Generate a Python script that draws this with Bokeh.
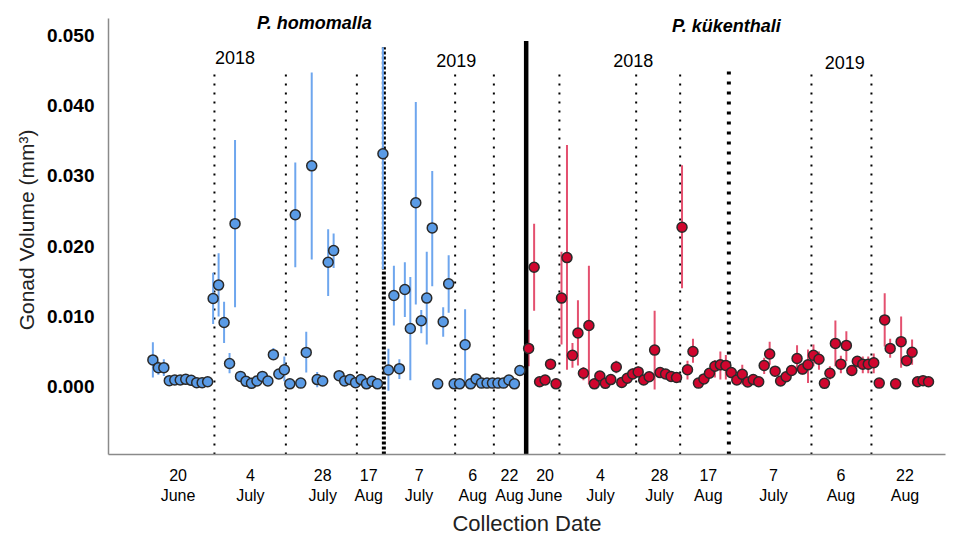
from bokeh.plotting import figure
from bokeh.models import FixedTicker, NumeralTickFormatter, Label, Range1d
from bokeh.embed import file_html
from bokeh.resources import INLINE

# ---- data ----
blue_val = [0.0038, 0.0027, 0.0027, 0.00085, 0.00095, 0.00095, 0.00104, 0.0009, 0.00057, 0.00057, 0.0007,
            0.01254, 0.01445, 0.00913, 0.0033, 0.0232, 0.00146, 0.00075, 0.00047, 0.0008, 0.00146, 0.0008, 0.00455, 0.0018, 0.0024, 0.0004,
            0.02447, 0.0005, 0.00487, 0.03143, 0.001, 0.0008, 0.01771, 0.01936, 0.00156, 0.0008, 0.001, 0.00057, 0.001, 0.0004, 0.00075, 0.0004,
            0.03314, 0.00237, 0.01297, 0.00256, 0.01382, 0.00828, 0.02618, 0.00938, 0.0126, 0.02259, 0.0004, 0.00923, 0.01463, 0.0004, 0.0004,
            0.00597, 0.0004, 0.0011, 0.0005, 0.0005, 0.0005, 0.0005, 0.0005, 0.00095, 0.0004, 0.0023]
blue_lo = [0.0013, 0.0017, 0.0015, 0.00085, 0.00095, 0.00095, 0.00104, 0.0009, 0.00057, 0.00057, 0.0007,
           0.0089, 0.0100, 0.0062, 0.0019, 0.0113, 0.00146, 0.00075, 0.00047, 0.0008, 0.0010, 0.0008, 0.0038, 0.0018, 0.00075, 0.0004,
           0.0170, 0.0005, 0.0020, 0.0181, -0.0001, 0.0008, 0.0129, 0.0169, 0.0010, 0.0008, 0.001, 0.00057, 0.001, 0.0004, 0.00075, 0.0004,
           0.0167, -0.0006, 0.0087, 0.0011, 0.0099, 0.0009, 0.0117, 0.0076, 0.0060, 0.0143, 0.0004, 0.0071, 0.0105, 0.0004, 0.0004,
           0.00075, 0.0004, 0.0011, 0.0005, 0.0005, 0.0005, 0.0005, 0.0005, 0.00095, 0.0004, 0.0023]
blue_hi = [0.0063, 0.0036, 0.0039, 0.00085, 0.00095, 0.00095, 0.00104, 0.0009, 0.00057, 0.00057, 0.0007,
           0.0162, 0.0190, 0.0121, 0.0048, 0.0351, 0.00146, 0.00075, 0.00047, 0.0008, 0.0021, 0.0008, 0.0055, 0.0018, 0.0043, 0.0004,
           0.0319, 0.0005, 0.0078, 0.0447, 0.0021, 0.0008, 0.0224, 0.0218, 0.0022, 0.0008, 0.001, 0.00057, 0.001, 0.0004, 0.00075, 0.0004,
           0.0483, 0.0054, 0.0172, 0.0039, 0.0177, 0.0156, 0.0405, 0.0109, 0.0192, 0.0307, 0.0004, 0.0113, 0.0187, 0.0004, 0.0004,
           0.0110, 0.0004, 0.0011, 0.0005, 0.0005, 0.0005, 0.0005, 0.0005, 0.00095, 0.0004, 0.0023]

red_val = [0.00544, 0.0170, 0.0007, 0.00095, 0.0032, 0.0004, 0.0126, 0.01837, 0.00445, 0.00763,
           0.0019, 0.0087, 0.0004, 0.0015, 0.00047, 0.001, 0.0028, 0.0006, 0.0012, 0.0018,
           0.0021, 0.00095, 0.0014, 0.0052, 0.002, 0.0018, 0.00146, 0.0013, 0.02268, 0.0024,
           0.005, 0.0005, 0.0011, 0.0019, 0.0029, 0.0031, 0.003, 0.002, 0.00095, 0.00175,
           0.00067, 0.001, 0.0007, 0.003, 0.00464, 0.0022, 0.0008, 0.0014, 0.0023, 0.0040,
           0.0025, 0.0031, 0.00445, 0.0039, 0.00047, 0.0019, 0.00615, 0.0032, 0.00587, 0.0023,
           0.0036, 0.0032, 0.0032, 0.0034, 0.0005, 0.0095, 0.00544, 0.0004, 0.0064, 0.0037,
           0.0049, 0.0007, 0.00085, 0.0007]
red_lo = [0.0029, 0.0108, 0.0007, 0.00095, 0.0032, 0.0004, 0.0060, 0.0024, 0.0027, 0.0030,
          0.0009, 0.0003, 0.0004, 0.0015, 0.00047, 0.001, 0.0019, 0.0006, 0.0012, 0.0012,
          0.0015, 0.00095, 0.0014, -0.0004, 0.002, 0.0018, 0.00146, 0.0013, 0.0140, 0.0010,
          0.0034, 0.0005, 0.0011, 0.0019, 0.0013, 0.0010, 0.0010, 0.0012, 0.00095, 0.0003,
          0.00067, 0.0007, 0.0007, 0.0018, 0.0031, 0.0014, 0.0008, 0.0014, 0.0023, 0.0022,
          0.0017, 0.0005, 0.0029, 0.0024, 0.00047, 0.0010, 0.0029, 0.0019, 0.0036, 0.0023,
          0.0027, 0.0019, 0.0019, 0.0019, 0.0005, 0.0057, 0.0041, 0.0004, 0.0027, 0.0037,
          0.0031, 0.0007, 0.00085, 0.0007]
red_hi = [0.0081, 0.0232, 0.0007, 0.00095, 0.0032, 0.0004, 0.0192, 0.0344, 0.0062, 0.0123,
          0.0028, 0.0172, 0.0004, 0.0015, 0.00047, 0.001, 0.0037, 0.0006, 0.0012, 0.0026,
          0.0029, 0.00095, 0.0014, 0.0108, 0.002, 0.0018, 0.00146, 0.0013, 0.0315, 0.0037,
          0.0068, 0.0005, 0.0011, 0.0019, 0.0038, 0.0050, 0.0045, 0.0027, 0.00095, 0.0031,
          0.00067, 0.0013, 0.0007, 0.0041, 0.0064, 0.0027, 0.0008, 0.0014, 0.0023, 0.0059,
          0.0034, 0.0053, 0.0060, 0.0050, 0.00047, 0.0029, 0.0094, 0.0044, 0.0079, 0.0023,
          0.0043, 0.0043, 0.0043, 0.0047, 0.0005, 0.0133, 0.0068, 0.0004, 0.0100, 0.0037,
          0.0067, 0.0007, 0.00085, 0.0007]

# sample positions along the x axis (sample order); red series follows after a gap
RED_START = 68.6
blue_x = list(range(len(blue_val)))
red_x = [RED_START + j for j in range(len(red_val))]

# x tick labels (collection dates)
tick_pos = [4.6, 17.8, 31.0, 39.4, 48.6, 58.4, 65.1, 71.6, 81.7, 92.5, 101.4, 113.3, 125.6, 137.3]
tick_lab = ["20\nJune", "4\nJuly", "28\nJuly", "17\nAug", "7\nJuly", "6\nAug", "22\nAug",
            "20\nJune", "4\nJuly", "28\nJuly", "17\nAug", "7\nJuly", "6\nAug", "22\nAug"]
y_ticks = [0.0, 0.01, 0.02, 0.03, 0.04, 0.05]

# separators between collection periods
thin_div = [11.24, 24.28, 37.24, 55.18, 62.25, 74.22, 88.23, 96.26, 120.23, 131.18]
year_div_blue = [42.17]
year_div_red = [105.15]
species_div = [68.15]

Y0, Y1, YAXIS_TOP = -0.00966, 0.05425, 0.0524
X0, X1 = -8.1, 144.7

p = figure(width=955, height=538, output_backend="svg", toolbar_location=None,
           x_range=Range1d(X0, X1), y_range=Range1d(Y0, Y1),
           min_border_left=108, min_border_right=10, min_border_top=5, min_border_bottom=83)
p.outline_line_color = None
p.xgrid.grid_line_color = None
p.ygrid.grid_line_color = None
p.background_fill_color = "white"

FONT = "Liberation Sans"

# vertical separators
p.segment(x0=thin_div, y0=[Y0] * len(thin_div), x1=thin_div, y1=[0.0449] * len(thin_div),
          line_color="black", line_width=2, line_dash="2 7")
p.segment(x0=year_div_blue, y0=[Y0], x1=year_div_blue, y1=[0.0483],
          line_color="black", line_width=4, line_dash="3 2")
p.segment(x0=year_div_red, y0=[Y0], x1=year_div_red, y1=[0.0450],
          line_color="black", line_width=4, line_dash="3 7")

# error bars
p.segment(x0=blue_x, y0=blue_lo, x1=blue_x, y1=blue_hi, line_color="#6ea6ee", line_width=2)
p.segment(x0=red_x, y0=red_lo, x1=red_x, y1=red_hi, line_color="#e4506f", line_width=2)

p.segment(x0=species_div, y0=[Y0], x1=species_div, y1=[0.0492], line_color="black", line_width=4.5)

# points
p.scatter(x=blue_x, y=blue_val, size=10, fill_color="#5a9be6", line_color="#2a2a2a", line_width=1.5)
p.scatter(x=red_x, y=red_val, size=10, fill_color="#d0062e", line_color="#2a2a2a", line_width=1.5)

# axes
p.xaxis.ticker = FixedTicker(ticks=tick_pos)
p.xaxis.major_label_overrides = {t: l for t, l in zip(tick_pos, tick_lab)}
p.xaxis.major_tick_line_color = None
p.xaxis.minor_tick_line_color = None
p.xaxis.axis_line_color = "#8a8a8a"
p.xaxis.axis_line_width = 1.5
p.xaxis.major_label_text_font = FONT
p.xaxis.major_label_text_font_size = "16px"
p.xaxis.major_label_text_color = "black"
p.xaxis.major_label_standoff = 6
p.xaxis.axis_label = "Collection Date"
p.xaxis.axis_label_text_font = FONT
p.xaxis.axis_label_text_font_size = "22px"
p.xaxis.axis_label_text_font_style = "normal"
p.xaxis.axis_label_text_color = "#222222"
p.xaxis.axis_label_standoff = 4

p.yaxis.bounds = (Y0, YAXIS_TOP)
p.yaxis.ticker = FixedTicker(ticks=y_ticks)
p.yaxis.formatter = NumeralTickFormatter(format="0.000")
p.yaxis.major_tick_line_color = None
p.yaxis.minor_tick_line_color = None
p.yaxis.axis_line_color = "#8a8a8a"
p.yaxis.axis_line_width = 1.5
p.yaxis.major_label_text_font = FONT
p.yaxis.major_label_text_font_size = "19px"
p.yaxis.major_label_text_font_style = "bold"
p.yaxis.major_label_text_color = "black"
p.yaxis.major_label_standoff = 8
p.yaxis.axis_label = "Gonad Volume (mm³)"
p.yaxis.axis_label_text_font = FONT
p.yaxis.axis_label_text_font_size = "21px"
p.yaxis.axis_label_text_font_style = "normal"
p.yaxis.axis_label_text_color = "#222222"
p.yaxis.axis_label_standoff = 6

# annotations
for txt, x, y, style, size in [
    ("P. homomalla", 29.5, 0.0517, "bold italic", "18px"),
    ("P. kükenthali", 104.7, 0.0513, "bold italic", "18px"),
    ("2018", 15.0, 0.0469, "normal", "18px"),
    ("2019", 55.4, 0.0464, "normal", "18px"),
    ("2018", 87.7, 0.0464, "normal", "18px"),
    ("2019", 126.3, 0.0462, "normal", "18px"),
]:
    p.add_layout(Label(x=x, y=y, text=txt, text_font=FONT, text_font_style=style,
                       text_font_size=size, text_align="center", text_baseline="middle",
                       text_color="black"))

open("out.html", "w").write(file_html(p, INLINE))
